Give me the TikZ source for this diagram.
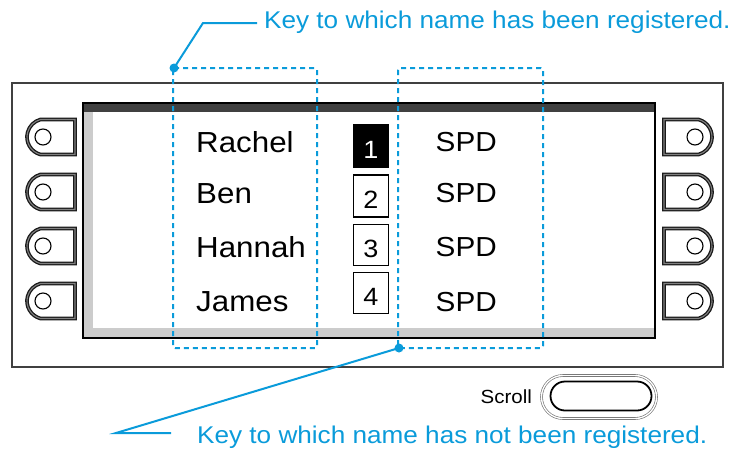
\documentclass[tikz,border=0pt]{standalone}
\usepackage{fontspec}
\setmainfont{Liberation Sans}[FakeStretch=1.08]
\usetikzlibrary{positioning,shapes.misc}

\definecolor{keyblue}{RGB}{10,155,218}

\tikzstyle{knob} = [rounded rectangle, rounded rectangle arc length=150, minimum width=48pt, minimum height=35pt, inner sep=0pt, draw=black!90, double=black!50, double distance=1.1pt, line width=1.3pt]
\tikzstyle{dimple} = [circle, draw, line width=1.1pt, minimum size=16pt, inner sep=0pt]
\tikzstyle{slot} = [draw, line width=1.2pt, minimum width=35pt, minimum height=42pt, inner sep=0pt, text height=25pt, text depth=0pt, font=\fontsize{25}{25}\selectfont]
\tikzstyle{who} = [anchor=base west, inner sep=0pt, font=\fontsize{29}{29}\selectfont]
\tikzstyle{spd} = [anchor=base east, inner sep=0pt, font=\fontsize{27.5}{27.5}\selectfont]
\tikzstyle{keybox} = [keyblue, line width=2pt, dash pattern=on 5pt off 4pt, rounded corners=2pt]
\tikzstyle{keydot} = [circle, fill=keyblue, minimum size=9pt, inner sep=0pt]
\tikzstyle{leader} = [keyblue, line width=2pt]
\tikzstyle{keytext} = [keyblue, inner sep=0pt, font=\fontsize{24.2}{24.2}\selectfont]

\begin{document}
\begin{tikzpicture}[x=1pt, y=-1pt]
\useasboundingbox (0,0) rectangle (730,450);
%panel
\draw[black!75, line width=1.5pt] (12,83) rectangle (723,367);
%begin screen
\fill[black!75] (83,103) rectangle (655,112);
\fill[gray!40] (84,112) rectangle (93,337);
\fill[gray!40] (84,328) rectangle (654,337);
\draw[line width=1.5pt] (83,103) rectangle (655,338);
%end screen
%begin left keys
\node[knob, rounded rectangle right arc=none] (keyL1) at (51,137) {};
\node[dimple] (dimL1) at (43,137) {};
\node[knob, rounded rectangle right arc=none] (keyL2) at (51,192) {};
\node[dimple] (dimL2) at (43,192) {};
\node[knob, rounded rectangle right arc=none] (keyL3) at (51,246) {};
\node[dimple] (dimL3) at (43,246) {};
\node[knob, rounded rectangle right arc=none] (keyL4) at (51,301) {};
\node[dimple] (dimL4) at (43,301) {};
%end left keys
%begin right keys
\node[knob, rounded rectangle left arc=none] (keyR1) at (688,137) {};
\node[dimple] (dimR1) at (695,137) {};
\node[knob, rounded rectangle left arc=none] (keyR2) at (688,192) {};
\node[dimple] (dimR2) at (695,192) {};
\node[knob, rounded rectangle left arc=none] (keyR3) at (688,246) {};
\node[dimple] (dimR3) at (695,246) {};
\node[knob, rounded rectangle left arc=none] (keyR4) at (688,301) {};
\node[dimple] (dimR4) at (695,301) {};
%end right keys
%begin names
\node[who] (rachel) at (196,152) {Rachel};
\node[who] (ben) at (196,203) {Ben};
\node[who] (hannah) at (196,257) {Hannah};
\node[who] (james) at (196,311) {James};
%end names
%begin slots
\node[slot, fill=black, text=white] (slot1) at (371,146) {1};
\node[slot] (slot2) at (371,196) {2};
\node[slot, minimum height=41pt] (slot3) at (371,245) {3};
\node[slot, minimum height=41pt] (slot4) at (371,293) {4};
%end slots
%begin spd
\node[spd] (spd1) at (497,151) {SPD};
\node[spd] (spd2) at (497,202) {SPD};
\node[spd] (spd3) at (497,256) {SPD};
\node[spd] (spd4) at (497,311) {SPD};
%end spd
%begin key boxes
\draw[keybox] (173,68) rectangle (317,348);
\draw[keybox] (398,68) rectangle (543,348);
%end key boxes
%begin registered
\node[keydot] (dotreg) at (174,68) {};
\node[keytext, anchor=west] (regtxt) at (264,22) {Key to which name has been registered.};
\coordinate (bendreg) at (203,23);
\coordinate (tailreg) at (257,23);
\draw[leader] (dotreg.center) -- (bendreg) -- (tailreg);
%end registered
%begin not registered
\node[keydot] (dotunreg) at (399,348) {};
\node[keytext, anchor=west] (unregtxt) at (197,437) {Key to which name has not been registered.};
\coordinate (bendunreg) at (116,433);
\coordinate (tailunreg) at (171,433);
\draw[leader] (dotunreg.center) -- (bendunreg) -- (tailunreg);
%end not registered
%begin scroll
\node[rounded rectangle, minimum width=115pt, minimum height=43pt, inner sep=0pt, draw=black!60, double, double distance=1.4pt, line width=0.6pt] (scrollbtn) at (599,397) {};
\node[rounded rectangle, minimum width=101pt, minimum height=29pt, inner sep=0pt, draw, line width=1.8pt] (scrollin) at (601,396) {};
\node[anchor=east, inner sep=0pt, font=\fontsize{19}{19}\selectfont, left=9pt of scrollbtn] (scrolltxt) {Scroll};
%end scroll
\end{tikzpicture}
\end{document}
